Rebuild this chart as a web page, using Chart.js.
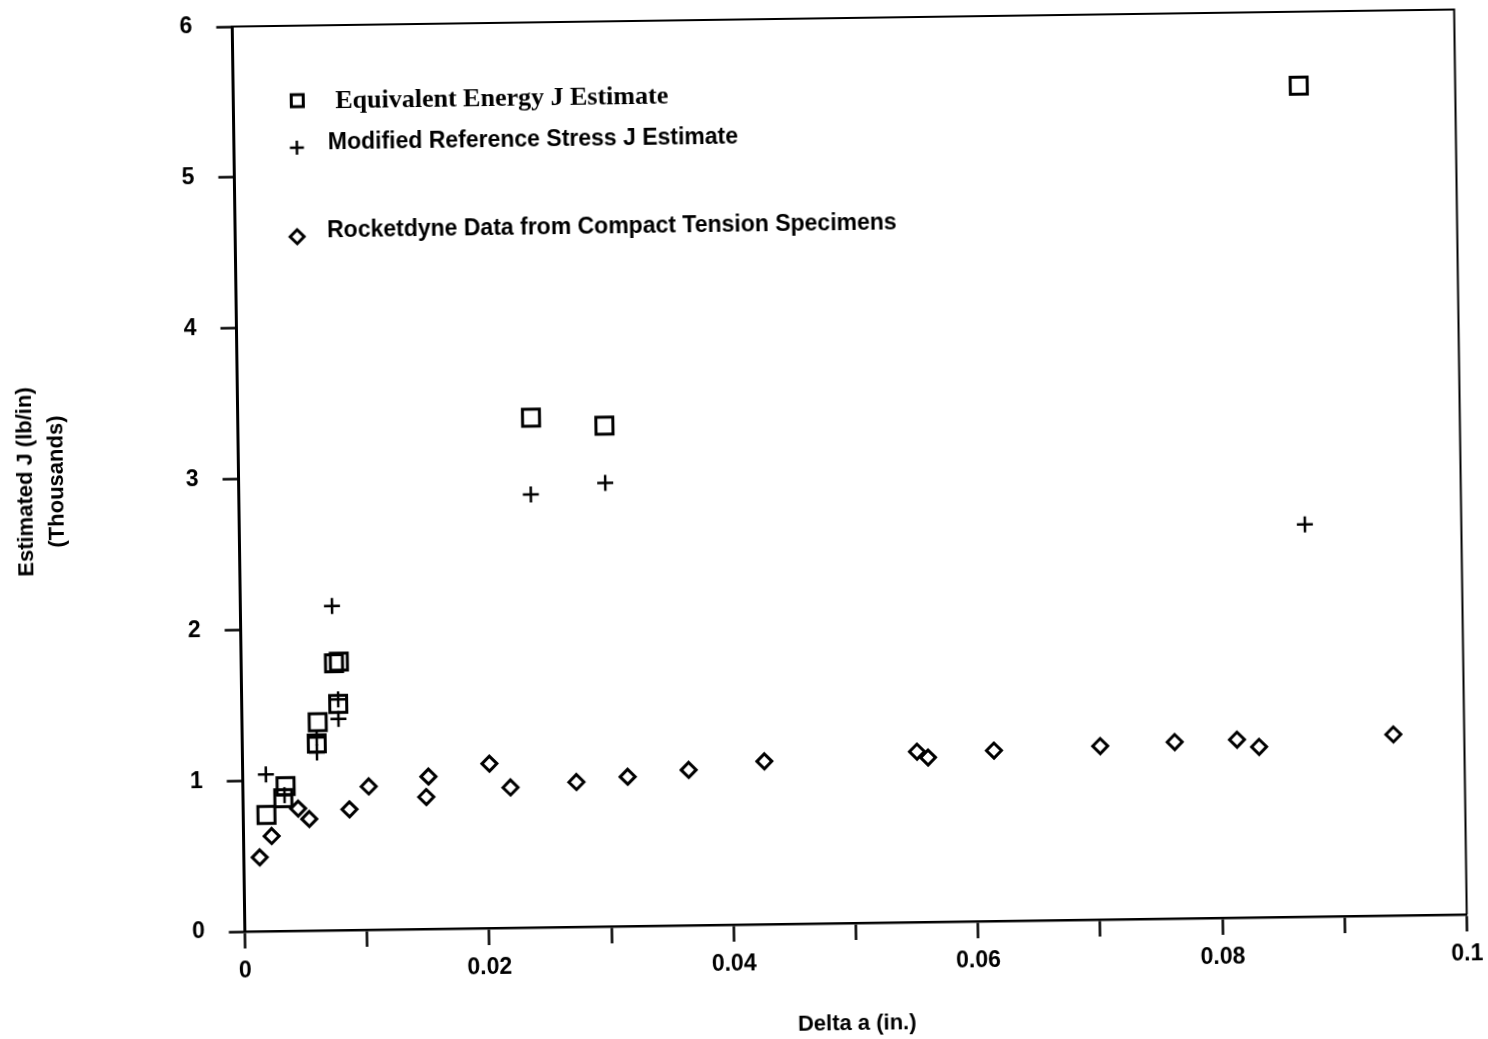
<!DOCTYPE html>
<html lang="en">

<head>
    <meta charset="UTF-8">
    <title>Estimated J vs Delta a</title>
    <script src="https://cdn.jsdelivr.net/npm/chart.js"></script>
    <style>
        html, body { margin: 0; padding: 0; background: #fff; overflow: hidden; }
        /* the scanned page sits slightly tilted */
        #wrap { width: 1488px; height: 1039px; transform: rotate(-0.8deg); transform-origin: 850px 471px; }
    </style>
</head>

<body>
    <div id="wrap"><canvas id="jChart" width="1488" height="1039"></canvas></div>

    <script>
        // data
        var seriesNames = ['Equivalent Energy J Estimate', 'Modified Reference Stress J Estimate',
            'Rocketdyne Data from Compact Tension Specimens'];

        var eeX = [0.0019, 0.0035, 0.0033, 0.0062, 0.0061, 0.0076, 0.0080, 0.0079, 0.0240, 0.0300, 0.0872];
        var eeY = [0.77, 0.96, 0.88, 1.38, 1.24, 1.77, 1.78, 1.50, 3.38, 3.32, 5.51];

        var mrX = [0.0019, 0.0034, 0.0061, 0.0061, 0.0075, 0.0079, 0.0079, 0.0239, 0.0300, 0.0872];
        var mrY = [1.04, 0.90, 1.28, 1.18, 2.15, 1.53, 1.40, 2.87, 2.94, 2.60];

        var rdX = [0.0013, 0.0023, 0.0045, 0.0054, 0.0087, 0.0103, 0.0150, 0.0152, 0.0202, 0.0219, 0.0273,
            0.0315, 0.0365, 0.0427, 0.0552, 0.0561, 0.0615, 0.0702, 0.0763, 0.0814, 0.0832, 0.0942];
        var rdY = [0.49, 0.63, 0.81, 0.74, 0.80, 0.95, 0.875, 1.01, 1.09, 0.93, 0.96,
            0.99, 1.03, 1.08, 1.13, 1.09, 1.13, 1.15, 1.17, 1.18, 1.13, 1.20];

        var xTickLabels = ['0', '0.02', '0.04', '0.06', '0.08', '0.1'];
        var yTickLabels = ['0', '1', '2', '3', '4', '5', '6'];

        var sans = '"Liberation Sans", Arial, sans-serif';

        function pts(xs, ys) {
            return xs.map(function (x, i) { return { x: x, y: ys[i] }; });
        }

        // legend drawn inside the plot, plus the box around it
        var frameAndLegend = {
            id: 'frameAndLegend',
            afterDraw: function (chart) {
                var ctx = chart.ctx;
                var a = chart.chartArea;
                ctx.save();
                ctx.strokeStyle = '#000';
                ctx.lineWidth = 2;
                ctx.beginPath();
                ctx.moveTo(a.left, a.top);
                ctx.lineTo(a.right, a.top);
                ctx.lineTo(a.right, a.bottom);
                ctx.stroke();

                ctx.lineWidth = 3;
                ctx.fillStyle = '#000';
                ctx.textBaseline = 'middle';

                // square
                var sx = a.left + 64, sy = a.top + 75;
                ctx.strokeRect(sx - 6, sy - 6, 12, 12);
                ctx.font = 'bold 26px "Liberation Serif", "DejaVu Serif", serif';
                ctx.fillText(seriesNames[0], a.left + 102, a.top + 76);

                // plus
                var px = a.left + 63, py = a.top + 122;
                ctx.lineWidth = 2.5;
                ctx.beginPath();
                ctx.moveTo(px - 7, py); ctx.lineTo(px + 7, py);
                ctx.moveTo(px, py - 7); ctx.lineTo(px, py + 7);
                ctx.stroke();
                ctx.font = 'bold 23px ' + sans;
                ctx.fillText(seriesNames[1], a.left + 94, a.top + 118);

                // diamond
                var dx = a.left + 62, dy = a.top + 211;
                ctx.lineWidth = 3;
                ctx.beginPath();
                ctx.moveTo(dx, dy - 7); ctx.lineTo(dx + 7, dy);
                ctx.lineTo(dx, dy + 7); ctx.lineTo(dx - 7, dy);
                ctx.closePath();
                ctx.stroke();
                ctx.fillText(seriesNames[2], a.left + 92, a.top + 206);
                ctx.restore();
            }
        };

        var ctx = document.getElementById('jChart').getContext('2d');
        var jChart = new Chart(ctx, {
            type: 'scatter',
            data: {
                datasets: [{
                    label: seriesNames[0],
                    data: pts(eeX, eeY),
                    pointStyle: 'rect',
                    pointRadius: 12,
                    borderColor: '#000',
                    backgroundColor: 'rgba(0,0,0,0)',
                    borderWidth: 3
                }, {
                    label: seriesNames[1],
                    data: pts(mrX, mrY),
                    pointStyle: 'cross',
                    pointRadius: 8,
                    borderColor: '#000',
                    backgroundColor: 'rgba(0,0,0,0)',
                    borderWidth: 2.5
                }, {
                    label: seriesNames[2],
                    data: pts(rdX, rdY),
                    pointStyle: 'rectRot',
                    pointRadius: 7.5,
                    borderColor: '#000',
                    backgroundColor: 'rgba(0,0,0,0)',
                    borderWidth: 3
                }]
            },
            options: {
                responsive: false,
                animation: false,
                layout: { padding: { top: 18, right: 27.5, bottom: 0, left: 0 } },
                plugins: {
                    legend: { display: false },
                    tooltip: { enabled: false }
                },
                scales: {
                    x: {
                        type: 'linear',
                        min: 0,
                        max: 0.1,
                        afterFit: function (s) { s.height = 116; s.paddingLeft = 0; s.paddingRight = 0; },
                        grid: { drawOnChartArea: false, drawTicks: true, tickLength: 17, tickWidth: 2.5, color: '#000' },
                        border: { display: true, width: 2.5, color: '#000' },
                        ticks: {
                            stepSize: 0.01,
                            autoSkip: false,
                            maxRotation: 0,
                            padding: 9,
                            color: '#000',
                            font: { family: sans, size: 23, weight: 'bold' },
                            callback: function (v, i) { return i % 2 === 0 ? xTickLabels[i / 2] : ''; }
                        },
                        title: {
                            display: true,
                            text: 'Delta a (in.)',
                            color: '#000',
                            padding: { top: 0, bottom: 2 },
                            font: { family: sans, size: 22, weight: 'bold' }
                        }
                    },
                    y: {
                        type: 'linear',
                        min: 0,
                        max: 6,
                        afterFit: function (s) { s.width = 238.5; s.paddingTop = 0; s.paddingBottom = 0; },
                        grid: { drawOnChartArea: false, drawTicks: true, tickLength: 16, tickWidth: 2.5, color: '#000' },
                        border: { display: true, width: 3, color: '#000' },
                        ticks: {
                            stepSize: 1,
                            padding: 24,
                            color: '#000',
                            font: { family: sans, size: 23, weight: 'bold' },
                            callback: function (v, i) { return yTickLabels[i]; }
                        },
                        title: {
                            display: true,
                            text: ['Estimated J (lb/in)', '(Thousands)'],
                            color: '#000',
                            padding: { top: 11, bottom: 0 },
                            font: { family: sans, size: 22, weight: 'bold', lineHeight: 1.4 }
                        }
                    }
                }
            },
            plugins: [frameAndLegend]
        });
    </script>

</body>

</html>
